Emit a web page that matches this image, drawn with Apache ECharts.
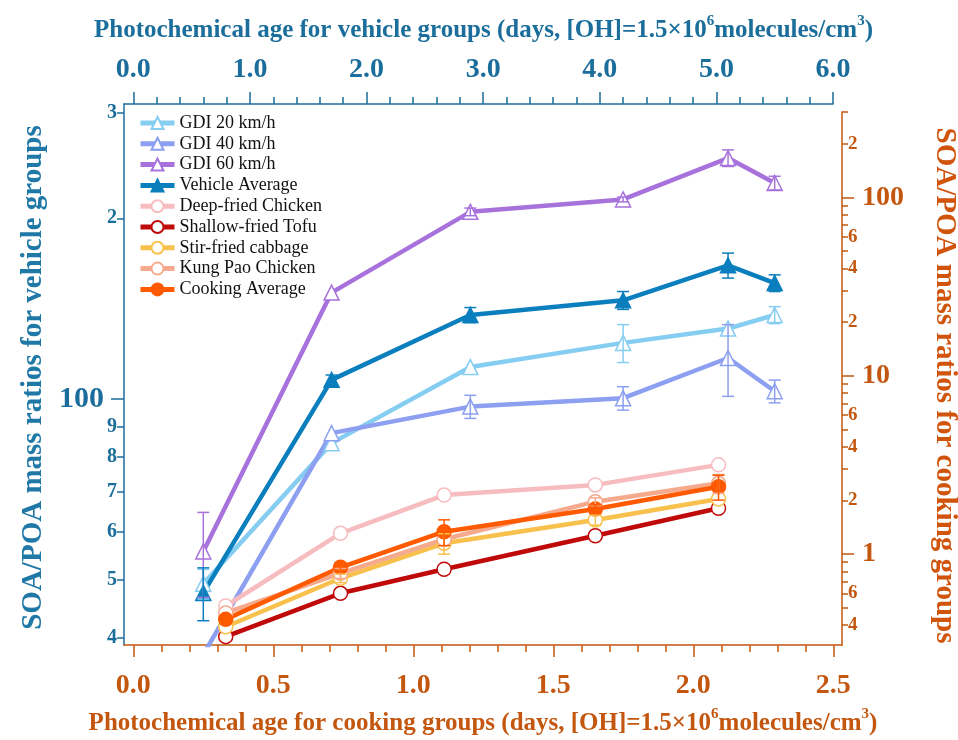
<!DOCTYPE html>
<html>
<head>
<meta charset="utf-8">
<script src="https://cdn.jsdelivr.net/npm/echarts@6/dist/echarts.min.js"></script>
<style>
html,body{margin:0;padding:0;background:#fff;}
#chart{width:958px;height:740px;}
</style>
</head>
<body>
<div id="chart"></div>
<script>
// Photochemical ages (days) at which each group was sampled
const vehicleAge = [0.60, 1.70, 2.89, 4.20, 5.10, 5.50];
const cookingAge = [0.33, 0.74, 1.11, 1.65, 2.09];

// SOA/POA mass ratios for the vehicle groups (left axis) and their errors
const gdi20 = [49.2, 84.4, 113, 124, 131, 138];
const gdi20Err = [2.8, 0, 0, 9, 0, 4.5];
const gdi40 = [37.5, 87.7, 97.1, 100.3, 117, 103];
const gdi40Err = [0, 0, 4.3, 4.5, 16, 4.5];
const gdi60 = [55.7, 150.4, 205, 215, 252, 229];
const gdi60Err = [9, 0, 3, 2, 8, 6];
const vehicleAvg = [47.5, 107.6, 138, 146, 167, 156];
const vehicleAvgErr = [4.8, 2, 4, 5, 8, 5];

// SOA/POA mass ratios for the cooking groups (right axis) and their errors
const deepFried = [0.511, 1.306, 2.14, 2.44, 3.16];
const deepFriedErr = [0, 0, 0, 0, 0];
const shallowFried = [0.344, 0.602, 0.821, 1.266, 1.804];
const shallowFriedErr = [0, 0, 0, 0, 0];
const stirFried = [0.391, 0.731, 1.148, 1.551, 2.034];
const stirFriedErr = [0, 0.04, 0.15, 0.1, 0];
const kungPao = [0.467, 0.779, 1.209, 1.965, 2.491];
const kungPaoErr = [0, 0.05, 0, 0.1, 0.3];
const cookingAvg = [0.430, 0.842, 1.334, 1.788, 2.384];
const cookingAvgErr = [0.02, 0.05, 0.22, 0.1, 0.38];

// Tick marks and tick labels
const topMajor = [0, 1, 2, 3, 4, 5, 6];
const bottomMajor = [0, 0.5, 1.0, 1.5, 2.0, 2.5];
const leftLabels = [40, 50, 60, 70, 80, 90, 100, 200, 300];
const leftDecades = [100];
const rightLabels = [0.4, 0.6, 1, 2, 4, 6, 10, 20, 40, 60, 100, 200];
const rightDecades = [1, 10, 100];

// Axis titles
const topTitle = '{t|Photochemical age for vehicle groups (days, [OH]=1.5\u00d710}{s|6}{t|molecules/cm}{s|3}{t|)}';
const bottomTitle = '{t|Photochemical age for cooking groups (days, [OH]=1.5\u00d710}{s|6}{t|molecules/cm}{s|3}{t|)}';
const leftTitle = 'SOA/POA mass ratios for vehicle groups';
const rightTitle = 'SOA/POA mass ratios for cooking groups';

const BLUE = '#1b6e9b';
const ORANGE = '#c4570f';
const FONT = "'Liberation Serif', 'Times New Roman', serif";

// minor tick helpers
function linearSteps(from, to, step) {
  const out = [];
  for (let v = from; v <= to + 1e-9; v += step) out.push(+v.toFixed(4));
  return out;
}
function logMinor(lo, hi) {
  const out = [];
  for (let e = -1; e <= 3; e++) {
    for (let m = 1; m <= 9; m++) {
      const v = +(m * Math.pow(10, e)).toPrecision(6);
      if (v >= lo && v <= hi && m !== 1) out.push(v);
    }
  }
  return out;
}
function isDecade(v) {
  const l = Math.log10(v);
  return Math.abs(l - Math.round(l)) < 1e-6;
}
function logLabel(v) {
  if (isDecade(v)) return '{big|' + (+v.toPrecision(6)) + '}';
  const e = Math.floor(Math.log10(v) + 1e-9);
  return '{small|' + Math.round(v / Math.pow(10, e)) + '}';
}

const topMinor = linearSteps(0, 6, 0.2);
const bottomMinor = linearSteps(0, 2.5, 0.1);
const leftMinor = logMinor(38.9, 310);
const rightMinor = logMinor(0.3, 301);

const titleRich = (color) => ({
  t: {fontFamily: FONT, fontWeight: 'bold', fontSize: 25, color: color, lineHeight: 34},
  s: {fontFamily: FONT, fontWeight: 'bold', fontSize: 15, color: color, lineHeight: 15, verticalAlign: 'top'}
});

const noSplit = {show: false};

const xAxis = [
  { // top axis: vehicle photochemical age
    type: 'value', gridIndex: 0, position: 'top', min: -0.08, max: 6,
    axisLine: {show: true, onZero: false, lineStyle: {color: BLUE, width: 1.5}},
    axisTick: {show: true, inside: false, length: 12, customValues: topMajor, lineStyle: {color: BLUE, width: 1.5}},
    axisLabel: {show: true, customValues: topMajor, formatter: v => v.toFixed(1), color: BLUE,
      fontFamily: FONT, fontWeight: 'bold', fontSize: 28, margin: 20},
    splitLine: noSplit,
    name: topTitle, nameLocation: 'middle', nameGap: 56,
    nameTextStyle: {rich: titleRich(BLUE), padding: [0, 0, 0, 10]}
  },
  { // top axis minor ticks
    type: 'value', gridIndex: 0, position: 'top', min: -0.08, max: 6,
    axisLine: {show: false, onZero: false},
    axisTick: {show: true, inside: false, length: 7, customValues: topMinor, lineStyle: {color: BLUE, width: 1.5}},
    axisLabel: {show: false}, splitLine: noSplit
  },
  { // bottom axis: cooking photochemical age
    type: 'value', gridIndex: 1, position: 'bottom', min: -0.0332, max: 2.531,
    axisLine: {show: true, onZero: false, lineStyle: {color: ORANGE, width: 1.5}},
    axisTick: {show: true, inside: false, length: 12, customValues: bottomMajor, lineStyle: {color: ORANGE, width: 1.5}},
    axisLabel: {show: true, customValues: bottomMajor, formatter: v => v.toFixed(1), color: ORANGE,
      fontFamily: FONT, fontWeight: 'bold', fontSize: 28, margin: 27},
    splitLine: noSplit,
    name: bottomTitle, nameLocation: 'middle', nameGap: 62,
    nameTextStyle: {rich: titleRich(ORANGE)}
  },
  { // bottom axis minor ticks
    type: 'value', gridIndex: 1, position: 'bottom', min: -0.0332, max: 2.531,
    axisLine: {show: false, onZero: false},
    axisTick: {show: true, inside: false, length: 7, customValues: bottomMinor, lineStyle: {color: ORANGE, width: 1.5}},
    axisLabel: {show: false}, splitLine: noSplit
  }
];

const yAxis = [
  { // left log axis: vehicle SOA/POA
    type: 'log', logBase: 10, gridIndex: 0, position: 'left', min: 38.9, max: 310.1,
    axisLine: {show: true, onZero: false, lineStyle: {color: BLUE, width: 1.5}},
    axisTick: {show: true, inside: false, length: 13, customValues: leftDecades, lineStyle: {color: BLUE, width: 1.5}},
    axisLabel: {show: true, customValues: leftLabels, formatter: logLabel, margin: 7,
      rich: {
        big: {fontFamily: FONT, fontWeight: 'bold', fontSize: 30, color: BLUE, padding: [0, 13, 0, 0]},
        small: {fontFamily: FONT, fontWeight: 'bold', fontSize: 20, color: BLUE}
      }},
    splitLine: noSplit,
    name: leftTitle, nameLocation: 'middle', nameRotate: 90, nameGap: 74,
    nameTextStyle: {fontFamily: FONT, fontWeight: 'bold', fontSize: 29, color: '#1f78a6', padding: [0, 6, 0, 0]}
  },
  { // left axis minor ticks
    type: 'log', logBase: 10, gridIndex: 0, position: 'left', min: 38.9, max: 310.1,
    axisLine: {show: false, onZero: false},
    axisTick: {show: true, inside: false, length: 7, customValues: leftMinor, lineStyle: {color: BLUE, width: 1.5}},
    axisLabel: {show: false}, splitLine: noSplit
  },
  { // right log axis: cooking SOA/POA
    type: 'log', logBase: 10, gridIndex: 1, position: 'right', min: 0.3088, max: 300.8,
    axisLine: {show: true, onZero: false, lineStyle: {color: ORANGE, width: 1.5}},
    axisTick: {show: true, inside: false, length: 12, customValues: rightDecades, lineStyle: {color: ORANGE, width: 1.5}},
    axisLabel: {show: true, customValues: rightLabels, formatter: logLabel, margin: 6,
      rich: {
        big: {fontFamily: FONT, fontWeight: 'bold', fontSize: 28, color: ORANGE, padding: [0, 0, 0, 14]},
        small: {fontFamily: FONT, fontWeight: 'bold', fontSize: 19, color: ORANGE}
      }},
    splitLine: noSplit,
    name: rightTitle, nameLocation: 'middle', nameRotate: -90, nameGap: 88,
    nameTextStyle: {fontFamily: FONT, fontWeight: 'bold', fontSize: 29, color: '#d0540c', padding: [0, 0, 0, 14]}
  },
  { // right axis minor ticks
    type: 'log', logBase: 10, gridIndex: 1, position: 'right', min: 0.3088, max: 300.8,
    axisLine: {show: false, onZero: false},
    axisTick: {show: true, inside: false, length: 6, customValues: rightMinor, lineStyle: {color: ORANGE, width: 1.5}},
    axisLabel: {show: false}, splitLine: noSplit
  }
];

function lineSeries(name, ages, vals, color, symbol, filled, xi, yi) {
  return {
    type: 'line', name: name, xAxisIndex: xi, yAxisIndex: yi,
    data: ages.map((a, i) => [a, vals[i]]),
    symbol: symbol, symbolSize: symbol === 'triangle' ? 15 : 14,
    showAllSymbol: true, clip: true,
    lineStyle: {color: color, width: 4.5},
    itemStyle: {color: filled ? color : '#ffffff', borderColor: color, borderWidth: 1.5},
    emphasis: {disabled: true}, z: 3
  };
}

function errorSeries(name, ages, vals, errs, color, xi, yi) {
  const data = [];
  ages.forEach((a, i) => {
    if (errs[i] > 0) data.push([a, vals[i] - errs[i], vals[i] + errs[i]]);
  });
  return {
    type: 'custom', name: name + ' error', xAxisIndex: xi, yAxisIndex: yi,
    data: data, z: 4, silent: true,
    encode: {x: 0, y: [1, 2]},
    renderItem: function (params, api) {
      const x = api.value(0);
      const top = api.coord([x, api.value(2)]);
      const bot = api.coord([x, api.value(1)]);
      const w = 6;
      const st = {stroke: color, lineWidth: 1.5, fill: null};
      return {
        type: 'group',
        children: [
          {type: 'line', shape: {x1: top[0], y1: top[1], x2: bot[0], y2: bot[1]}, style: st},
          {type: 'line', shape: {x1: top[0] - w, y1: top[1], x2: top[0] + w, y2: top[1]}, style: st},
          {type: 'line', shape: {x1: bot[0] - w, y1: bot[1], x2: bot[0] + w, y2: bot[1]}, style: st}
        ]
      };
    }
  };
}

const groups = [
  {name: 'GDI 20 km/h', ages: vehicleAge, vals: gdi20, errs: gdi20Err, color: '#86cdf2', symbol: 'triangle', filled: false, x: 0, y: 0},
  {name: 'GDI 40 km/h', ages: vehicleAge, vals: gdi40, errs: gdi40Err, color: '#8c9ff0', symbol: 'triangle', filled: false, x: 0, y: 0},
  {name: 'GDI 60 km/h', ages: vehicleAge, vals: gdi60, errs: gdi60Err, color: '#a872dc', symbol: 'triangle', filled: false, x: 0, y: 0},
  {name: 'Vehicle Average', ages: vehicleAge, vals: vehicleAvg, errs: vehicleAvgErr, color: '#0b7fbd', symbol: 'triangle', filled: true, x: 0, y: 0},
  {name: 'Deep-fried Chicken', ages: cookingAge, vals: deepFried, errs: deepFriedErr, color: '#f7bcbf', symbol: 'circle', filled: false, x: 2, y: 2},
  {name: 'Shallow-fried Tofu', ages: cookingAge, vals: shallowFried, errs: shallowFriedErr, color: '#c00a0a', symbol: 'circle', filled: false, x: 2, y: 2},
  {name: 'Stir-fried cabbage', ages: cookingAge, vals: stirFried, errs: stirFriedErr, color: '#f8c04c', symbol: 'circle', filled: false, x: 2, y: 2},
  {name: 'Kung Pao Chicken', ages: cookingAge, vals: kungPao, errs: kungPaoErr, color: '#f5aa8e', symbol: 'circle', filled: false, x: 2, y: 2},
  {name: 'Cooking Average', ages: cookingAge, vals: cookingAvg, errs: cookingAvgErr, color: '#ff5a00', symbol: 'circle', filled: true, x: 2, y: 2}
];

const series = [];
groups.forEach(g => {
  series.push(lineSeries(g.name, g.ages, g.vals, g.color, g.symbol, g.filled, g.x, g.y));
  series.push(errorSeries(g.name, g.ages, g.vals, g.errs, g.color, g.x, g.y));
});

const chart = echarts.init(document.getElementById('chart'), null, {renderer: 'canvas'});
chart.setOption({
  animation: false,
  backgroundColor: '#ffffff',
  textStyle: {fontFamily: FONT},
  grid: [
    {left: 124, top: 104, width: 709, height: 541, show: false, outerBoundsMode: 'none', containLabel: false},
    {left: 124, top: 112, width: 718, height: 533, show: false, outerBoundsMode: 'none', containLabel: false}
  ],
  legend: {
    data: groups.map(g => g.name),
    orient: 'vertical', left: 138, top: 114, padding: 0,
    itemWidth: 34, itemHeight: 15, itemGap: 2.8,
    selectedMode: false,
    lineStyle: {width: 5},
    textStyle: {fontFamily: FONT, fontSize: 18, color: '#111'}
  },
  xAxis: xAxis,
  yAxis: yAxis,
  series: series
});
</script>
</body>
</html>
